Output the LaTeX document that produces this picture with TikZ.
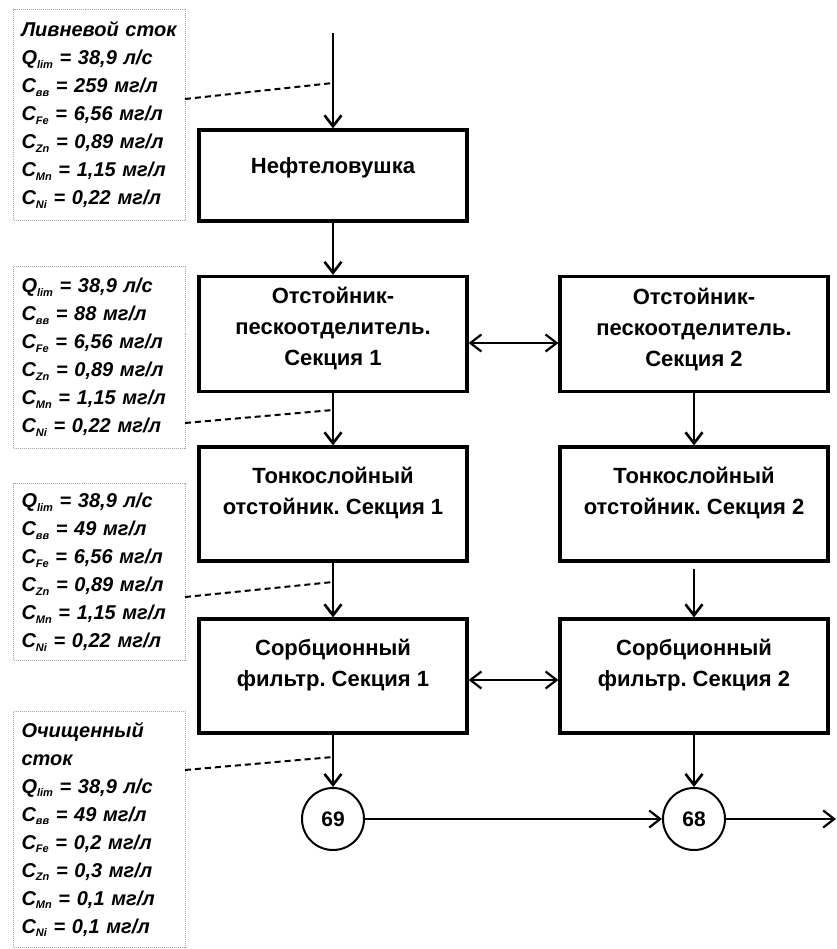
\documentclass[tikz,border=0pt]{standalone}
\usepackage{fontspec}
\setmainfont{Liberation Sans}
\usetikzlibrary{arrows.meta}
\newcommand\mysub[1]{\raisebox{-0.35ex}{\fontsize{11}{11}\selectfont #1}}
\frenchspacing
\begin{document}
\begin{tikzpicture}[x=1pt,y=-1pt,
 proc/.style={draw, line width=3.2pt, fill=white, minimum width=268pt, inner sep=0pt},
 ptext/.style={font=\fontsize{22}{31}\selectfont\bfseries, align=center, inner sep=0pt},
 info/.style={draw=gray!70, densely dotted, line width=1pt, anchor=north west, text width=156pt, inner xsep=8pt, align=left, font=\fontsize{20}{28}\selectfont\bfseries\itshape},
 flow/.style={line width=2.6pt, -{Straight Barb[length=11pt,width=17pt]}},
 both/.style={line width=2.2pt, {Straight Barb[length=11pt,width=17pt]}-{Straight Barb[length=11pt,width=17pt]}},
 lead/.style={dash pattern=on 6pt off 4pt, line width=2pt},
 junction/.style={circle, draw, line width=2pt, fill=white, minimum size=62pt, inner sep=0pt, font=\fontsize{21}{21}\selectfont\bfseries}
]
\useasboundingbox (0,0) rectangle (836,949);

% info boxes
\node[info, minimum height=211pt] (i1) at (13,9) {Ливневой сток\\
Q\mysub{lim} = 38,9 л/с\\
C\mysub{вв} = 259 мг/л\\
C\mysub{Fe} = 6,56 мг/л\\
C\mysub{Zn} = 0,89 мг/л\\
C\mysub{Mn} = 1,15 мг/л\\
C\mysub{Ni} = 0,22 мг/л};
\node[info, minimum height=182pt] (i2) at (13,266) {Q\mysub{lim} = 38,9 л/с\\
C\mysub{вв} = 88 мг/л\\
C\mysub{Fe} = 6,56 мг/л\\
C\mysub{Zn} = 0,89 мг/л\\
C\mysub{Mn} = 1,15 мг/л\\
C\mysub{Ni} = 0,22 мг/л};
\node[info, minimum height=177pt] (i3) at (13,483) {Q\mysub{lim} = 38,9 л/с\\
C\mysub{вв} = 49 мг/л\\
C\mysub{Fe} = 6,56 мг/л\\
C\mysub{Zn} = 0,89 мг/л\\
C\mysub{Mn} = 1,15 мг/л\\
C\mysub{Ni} = 0,22 мг/л};
\node[info, minimum height=236pt] (i4) at (13,711) {Очищенный\\
сток\\
Q\mysub{lim} = 38,9 л/с\\
C\mysub{вв} = 49 мг/л\\
C\mysub{Fe} = 0,2 мг/л\\
C\mysub{Zn} = 0,3 мг/л\\
C\mysub{Mn} = 0,1 мг/л\\
C\mysub{Ni} = 0,1 мг/л};

% process boxes
\node[proc, minimum height=91pt] (b1) at (333,175.5) {};
\node[proc, minimum height=115pt] (b2) at (333,334) {};
\node[proc, minimum height=115pt] (b3) at (694,334) {};
\node[proc, minimum height=114pt] (t1) at (333,504) {};
\node[proc, minimum height=114pt] (t2) at (694,504) {};
\node[proc, minimum height=114pt] (s1) at (333,676) {};
\node[proc, minimum height=114pt] (s2) at (694,676) {};

\node[ptext] (b1t) at ([yshift=8pt]b1.center) {Нефтеловушка};
\node[ptext] (b2t) at ([yshift=5pt]b2.center) {Отстойник-\\пескоотделитель.\\Секция 1};
\node[ptext] (b3t) at ([yshift=4pt]b3.center) {Отстойник-\\пескоотделитель.\\Секция 2};
\node[ptext] (t1t) at ([yshift=11pt]t1.center) {Тонкослойный\\отстойник. Секция 1};
\node[ptext] (t2t) at ([yshift=11pt]t2.center) {Тонкослойный\\отстойник. Секция 2};
\node[ptext] (s1t) at ([yshift=11pt]s1.center) {Сорбционный\\фильтр. Секция 1};
\node[ptext] (s2t) at ([yshift=11pt]s2.center) {Сорбционный\\фильтр. Секция 2};

% junctions
\node[junction] (c69) at (333,819) {69};
\node[junction] (c68) at (694,819) {68};

% flows
\coordinate (in) at (333,33);
\coordinate (out) at (836,819);
\draw[flow] (in) -- (b1.north);
\draw[flow] (b1.south) -- (b2.north);
\draw[flow] (b2.south) -- (t1.north);
\draw[flow] (b3.south) -- (t2.north);
\draw[flow] (t1.south) -- (s1.north);
\draw[flow] ([yshift=-6pt]t2.south) -- (s2.north);
\draw[flow] (s1.south) -- (c69.north);
\draw[flow] (s2.south) -- (c68.north);
\draw[flow, line width=2.2pt] (c69.east) -- (c68.west);
\draw[flow, line width=2.2pt] (c68.east) -- (out);
\draw[both] ([yshift=-9pt]b2.east) -- ([yshift=-9pt]b3.west);
\draw[both] ([yshift=-4pt]s1.east) -- ([yshift=-4pt]s2.west);

% leaders
\coordinate (d1a) at (185,99);  \coordinate (d1b) at (333,83);
\coordinate (d2a) at (185,423); \coordinate (d2b) at (333,410);
\coordinate (d3a) at (185,597); \coordinate (d3b) at (333,582);
\coordinate (d4a) at (185,770); \coordinate (d4b) at (333,757);
\draw[lead] (d1a) -- (d1b);
\draw[lead] (d2a) -- (d2b);
\draw[lead] (d3a) -- (d3b);
\draw[lead] (d4a) -- (d4b);
\end{tikzpicture}
\end{document}
